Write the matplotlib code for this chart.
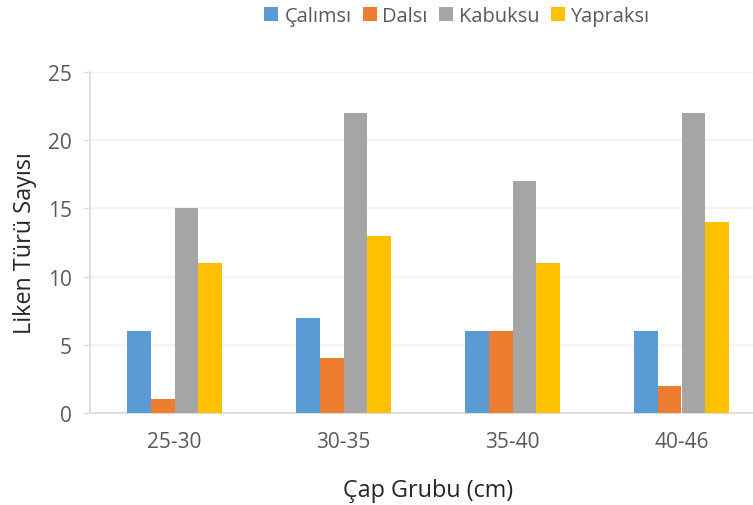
import numpy as np
import matplotlib.pyplot as plt

groups = ['25-30', '30-35', '35-40', '40-46']
series = ['Çalımsı', 'Dalsı', 'Kabuksu', 'Yapraksı']
calimsi = [6, 7, 6, 6]
dalsi = [1, 4, 6, 2]
kabuksu = [15, 22, 17, 22]
yapraksi = [11, 13, 11, 14]
colors = ['#5B9BD5', '#ED7D31', '#A5A5A5', '#FFC000']

plt.rcParams['font.family'] = ['Open Sans', 'DejaVu Sans']
text_col = '#595959'

fig = plt.figure(figsize=(7.53, 5.06), dpi=100)
W, H = 753, 506
ax = fig.add_axes([90 / W, (H - 414) / H, 676 / W, 341 / H])

x = np.arange(len(groups))
w = 0.142
values = [calimsi, dalsi, kabuksu, yapraksi]
for i, (name, vals, c) in enumerate(zip(series, values, colors)):
    ax.bar(x + (i - 1.5) * w, vals, w, color=c, label=name, zorder=3)

ax.set_xlim(-0.5, 3.5)
ax.set_ylim(0, 25)
ax.set_yticks([0, 5, 10, 15, 20, 25])
ax.set_xticks(x)
ax.set_xticklabels(groups)
ax.yaxis.grid(True, color='#FDF0E6', linewidth=1.2, zorder=0)

for s in ['top', 'right']:
    ax.spines[s].set_visible(False)
for s in ['left', 'bottom']:
    ax.spines[s].set_color('#D9D9D9')
    ax.spines[s].set_linewidth(1.2)

ax.tick_params(axis='y', colors='#D9D9D9', length=5, labelcolor=text_col,
               labelsize=15, pad=8)
ax.tick_params(axis='x', length=0, labelcolor=text_col, labelsize=15, pad=13)

ax.set_ylabel('Liken Türü Sayısı', fontsize=16.8, color='#262626', labelpad=8)
ax.set_xlabel('Çap Grubu (cm)', fontsize=16.8, color='#262626', labelpad=19)

fig.legend(loc='center', bbox_to_anchor=(457 / W, 1 - 17 / H), ncol=4, frameon=False,
           fontsize=14.4, handlelength=0.7, handleheight=0.7, handletextpad=0.3,
           columnspacing=0.55, labelcolor=text_col, borderaxespad=0, borderpad=0)

fig.savefig('out.png', dpi=100)
